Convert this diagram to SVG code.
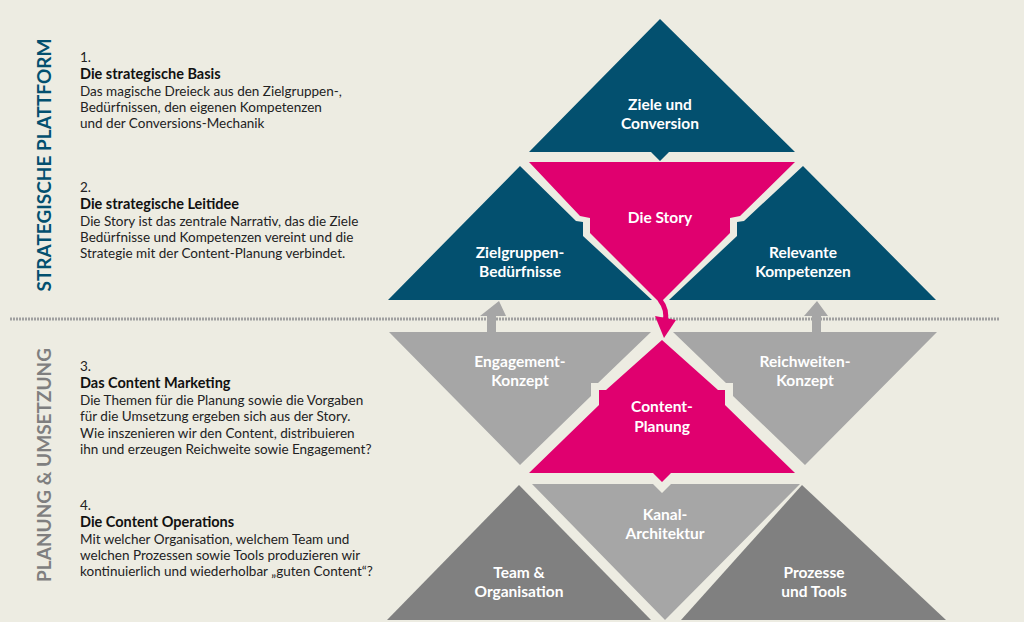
<svg xmlns="http://www.w3.org/2000/svg" width="1024" height="622" viewBox="0 0 1024 622">
<style>
.b{fill:#03506f}.p{fill:#e0006f}.g{fill:#a6a6a6}.d{fill:#808080}
.t{font-family:Lato,"Open Sans",sans-serif;font-size:15.5px;font-weight:bold;fill:#fff;text-anchor:middle}
.x{font-family:Lato,"Open Sans",sans-serif;font-size:13.5px;fill:#222}
.h{font-weight:bold;font-size:14.5px;fill:#111}
.v{font-family:Lato,"Open Sans",sans-serif;font-size:19px;font-weight:bold;text-anchor:middle}
</style>
<rect width="1024" height="622" fill="#edece2"/>
<text class="v" fill="#03506f" transform="translate(51,165) rotate(-90)">STRATEGISCHE PLATTFORM</text>
<text class="v" fill="#7f7f7f" transform="translate(51,465) rotate(-90)">PLANUNG &amp; UMSETZUNG</text>
<g id="text1" class="x"><text x="80" y="62">1.</text><text x="80" y="79" class="h">Die strategische Basis</text><text x="80" y="96">Das magische Dreieck aus den Zielgruppen-,</text><text x="80" y="112">Bedürfnissen, den eigenen Kompetenzen</text><text x="80" y="128">und der Conversions-Mechanik</text></g>
<g id="text2" class="x"><text x="80" y="192">2.</text><text x="80" y="209" class="h">Die strategische Leitidee</text><text x="80" y="226">Die Story ist das zentrale Narrativ, das die Ziele</text><text x="80" y="242">Bedürfnisse und Kompetenzen vereint und die</text><text x="80" y="258">Strategie mit der Content-Planung verbindet.</text></g>
<g id="text3" class="x"><text x="80" y="371">3.</text><text x="80" y="388" class="h">Das Content Marketing</text><text x="80" y="405">Die Themen für die Planung sowie die Vorgaben</text><text x="80" y="421">für die Umsetzung ergeben sich aus der Story.</text><text x="80" y="438">Wie inszenieren wir den Content, distribuieren</text><text x="80" y="454">ihn und erzeugen Reichweite sowie Engagement?</text></g>
<g id="text4" class="x"><text x="80" y="510">4.</text><text x="80" y="527" class="h">Die Content Operations</text><text x="80" y="544">Mit welcher Organisation, welchem Team und</text><text x="80" y="560">welchen Prozessen sowie Tools  produzieren wir</text><text x="80" y="576">kontinuierlich und wiederholbar „guten Content“?</text></g>
<line x1="10" y1="319" x2="1000" y2="319" stroke="#a0a0a0" stroke-width="3" stroke-dasharray="2 1"/>
<g id="ziele"><polygon class="b" points="660,19 795,152 669,152 660,161 651,152 529,152"/><text class="t" x="660" y="110">Ziele und</text><text class="t" x="660" y="129">Conversion</text></g>
<g id="story"><polygon class="p" points="529,162 795,162 740,216 730,218 730,233 660,303 590,233 590,218 580,216"/><text class="t" x="660" y="223">Die Story</text></g>
<g id="zielgruppen"><polygon class="b" points="520,166 576,221 583,222 583,236 652,300 388,300"/><text class="t" x="520" y="258">Zielgruppen-</text><text class="t" x="520" y="277">Bedürfnisse</text></g>
<g id="kompetenzen"><polygon class="b" points="803,166 936,300 669,300 737,236 737,222 744,221"/><text class="t" x="803" y="258">Relevante</text><text class="t" x="803" y="277">Kompetenzen</text></g>
<g id="engagement"><polygon class="g" points="389,332 651,332 598,383 591,383 591,396 520,465"/><text class="t" x="520" y="367">Engagement-</text><text class="t" x="520" y="386">Konzept</text></g>
<g id="reichweiten"><polygon class="g" points="673,332 937,332 805,465 733,396 733,383 726,383"/><text class="t" x="805" y="367">Reichweiten-</text><text class="t" x="805" y="386">Konzept</text></g>
<g id="planung"><polygon class="p" points="662,340 718,390 725,390 725,405 795,473 671,473 662,482 653,473 529,473 599,405 599,390 606,390"/><text class="t" x="662" y="412">Content-</text><text class="t" x="662" y="432">Planung</text></g>
<g id="kanal"><polygon class="g" points="532,484 653,484 662,493 671,484 800,484 665,620"/><text class="t" x="665" y="520">Kanal-</text><text class="t" x="665" y="539">Architektur</text></g>
<g id="team"><polygon class="d" points="519,485 651,620 387,620"/><text class="t" x="519" y="578">Team &amp;</text><text class="t" x="519" y="597">Organisation</text></g>
<g id="prozesse"><polygon class="d" points="802,485 946,620 681,620"/><text class="t" x="814" y="578">Prozesse</text><text class="t" x="814" y="597">und Tools</text></g>
<g id="connectors">
<polygon fill="#a6a6a6" points="487,332 487,316 480,316 499,301 506,316 496,316 496,332"/>
<polygon fill="#a6a6a6" points="812,332 812,316 804,316 817,301 828,316 821,316 821,332"/>
<path d="M660,300 Q668,310 665,322" stroke="#e0006f" stroke-width="5" fill="none"/>
<polygon fill="#e0006f" points="655,316 676,320 664,338"/>
</g>
</svg>
